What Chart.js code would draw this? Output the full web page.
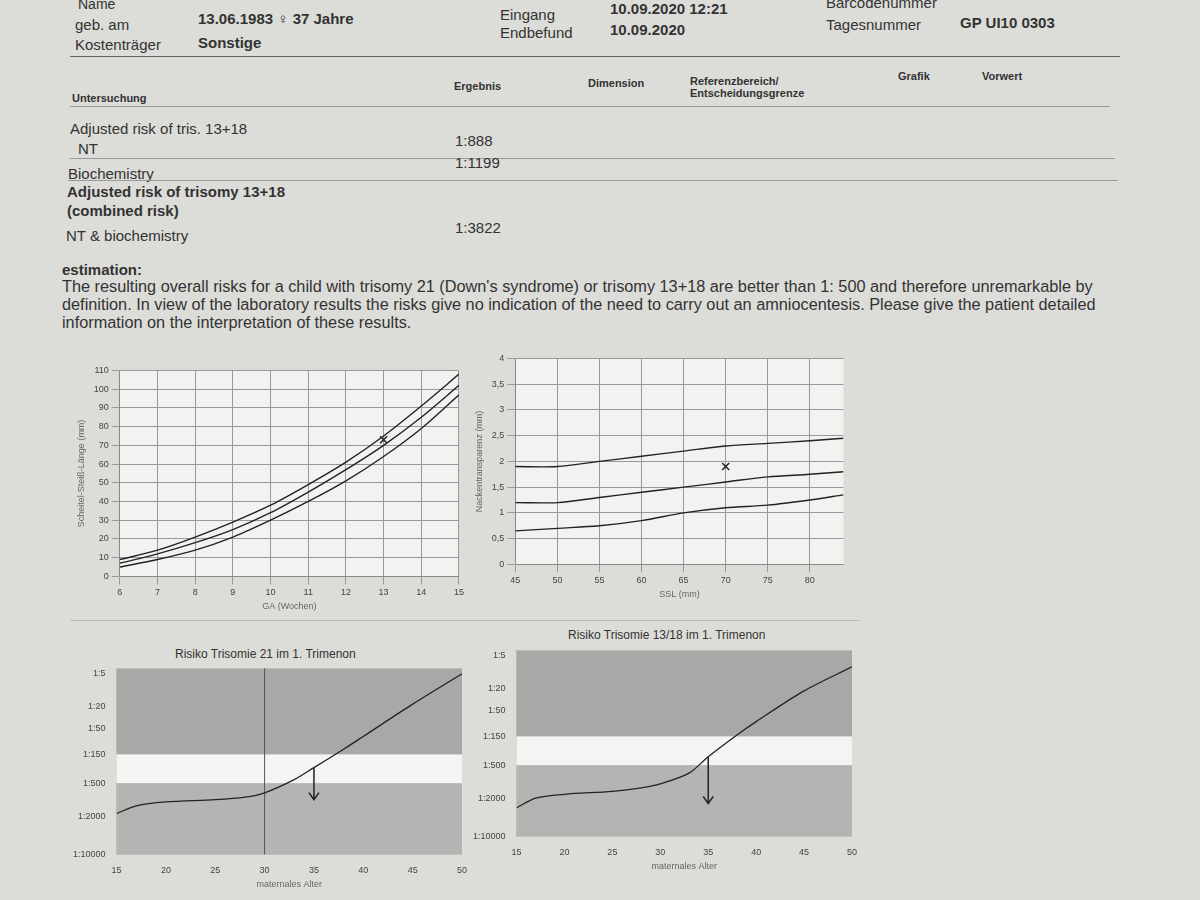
<!DOCTYPE html>
<html><head><meta charset="utf-8">
<script src="https://cdn.jsdelivr.net/npm/chart.js@4"></script>
<style>
body{margin:0;width:1200px;height:900px;background:#dcdcd8;font-family:"Liberation Sans",Arial,sans-serif;color:#333;position:relative;overflow:hidden}
.t{position:absolute;white-space:nowrap}
.hr{position:absolute;height:1px;background:#999}
.c{position:absolute}
</style></head><body>
<div class="t" style="left:78px;top:-4px;font-size:14px">Name</div>
<div class="t" style="left:75px;top:16px;font-size:15px">geb. am</div>
<div class="t" style="left:75px;top:36px;font-size:15px">Kostenträger</div>
<div class="t" style="left:198px;top:10px;font-size:15px;font-weight:bold">13.06.1983 ♀ 37 Jahre</div>
<div class="t" style="left:198px;top:34px;font-size:15px;font-weight:bold">Sonstige</div>
<div class="t" style="left:500px;top:6px;font-size:15px">Eingang</div>
<div class="t" style="left:500px;top:24px;font-size:15px">Endbefund</div>
<div class="t" style="left:610px;top:0px;font-size:15px;font-weight:bold">10.09.2020 12:21</div>
<div class="t" style="left:610px;top:21px;font-size:15px;font-weight:bold">10.09.2020</div>
<div class="t" style="left:826px;top:-6px;font-size:15px">Barcodenummer</div>
<div class="t" style="left:826px;top:16px;font-size:15px">Tagesnummer</div>
<div class="t" style="left:960px;top:14px;font-size:15px;font-weight:bold">GP UI10 0303</div>
<div class="hr" style="left:70px;top:56px;width:1050px;background:#666"></div>
<div class="t" style="left:72px;top:92px;font-size:11px;font-weight:bold">Untersuchung</div>
<div class="t" style="left:454px;top:80px;font-size:11px;font-weight:bold">Ergebnis</div>
<div class="t" style="left:588px;top:77px;font-size:11px;font-weight:bold">Dimension</div>
<div class="t" style="left:690px;top:75px;font-size:11px;font-weight:bold;line-height:12px">Referenzbereich/<br>Entscheidungsgrenze</div>
<div class="t" style="left:898px;top:70px;font-size:11px;font-weight:bold">Grafik</div>
<div class="t" style="left:982px;top:70px;font-size:11px;font-weight:bold">Vorwert</div>
<div class="hr" style="left:70px;top:106px;width:1040px"></div>
<div class="t" style="left:70px;top:120px;font-size:15px">Adjusted risk of tris. 13+18</div>
<div class="t" style="left:78px;top:140px;font-size:15px">NT</div>
<div class="t" style="left:455px;top:132px;font-size:15px">1:888</div>
<div class="hr" style="left:70px;top:158px;width:1045px"></div>
<div class="t" style="left:455px;top:154px;font-size:15px">1:1199</div>
<div class="t" style="left:68px;top:165px;font-size:15px">Biochemistry</div>
<div class="hr" style="left:68px;top:180px;width:1050px"></div>
<div class="t" style="left:67px;top:182px;font-size:15px;font-weight:bold;line-height:19px">Adjusted risk of trisomy 13+18<br>(combined risk)</div>
<div class="t" style="left:66px;top:227px;font-size:15px">NT &amp; biochemistry</div>
<div class="t" style="left:455px;top:219px;font-size:15px">1:3822</div>
<div class="t" style="left:62px;top:261px;font-size:15px;font-weight:bold">estimation:</div>
<div class="t" style="left:62px;top:277px;font-size:16.3px;line-height:18px">The resulting overall risks for a child with trisomy 21 (Down's syndrome) or trisomy 13+18 are better than 1: 500 and therefore unremarkable by<br>definition. In view of the laboratory results the risks give no indication of the need to carry out an amniocentesis. Please give the patient detailed<br>information on the interpretation of these results.</div>
<div class="c" style="left:72px;top:362px;width:395px;height:250px"><canvas id="c1"></canvas></div>
<div class="c" style="left:470px;top:350px;width:380px;height:250px"><canvas id="c2"></canvas></div>
<div class="hr" style="left:70px;top:620px;width:790px;background:#bbb"></div>
<div class="t" style="left:175px;top:647px;font-size:12px">Risiko Trisomie 21 im 1. Trimenon</div>
<div class="t" style="left:568px;top:628px;font-size:12px">Risiko Trisomie 13/18 im 1. Trimenon</div>
<div class="c" style="left:70px;top:660px;width:400px;height:230px"><canvas id="c3"></canvas></div>
<div class="c" style="left:470px;top:642px;width:390px;height:230px"><canvas id="c4"></canvas></div>
<script>
const gaWeeks=[6,7,8,9,10,11,12,13,14,15];
const crlLow=[5,9,14,21,30,40,51,64,79,97];
const crlMid=[7,12,18,25,34,45,57,70,85,102];
const crlHigh=[9,14,21,29,38,49,61,75,91,108];
const crlPoint={x:13,y:73};
const sslX=[45,50,55,60,65,70,75,80,84];
const ntHigh=[1.9,1.9,2.0,2.1,2.2,2.3,2.35,2.4,2.45];
const ntMid=[1.2,1.2,1.3,1.4,1.5,1.6,1.7,1.75,1.8];
const ntLow=[0.65,0.7,0.75,0.85,1.0,1.1,1.15,1.25,1.35];
const ntPoint={x:70,y:1.9};
const ageX=[15,17,20,25,28,30,33,35,38,40,45,50];
const riskT21=[1800,1300,1100,1000,900,750,430,260,120,70,18,5];
const riskT1318=[3000,2000,1700,1500,1300,1100,700,350,140,80,22,8];
const riskTicks=[5,20,50,150,500,2000,10000];
const F={family:"Liberation Sans",size:9};
function lin(xs,ys){return xs.map((x,i)=>({x,y:ys[i]}));}
const grid={color:'#999',borderDash:[2,2]};
const lineDs=(d)=>({data:d,borderColor:'#222',borderWidth:1.4,pointRadius:0,tension:0.3,showLine:true});
const markDs=(p)=>({data:[p],pointStyle:'crossRot',pointRadius:5,borderColor:'#222',borderWidth:1.5,showLine:false});
const base={responsive:true,maintainAspectRatio:false,animation:false,plugins:{legend:{display:false},tooltip:{enabled:false}}};
const bg={id:'bg',beforeDraw(c,a,o){const{ctx,chartArea:ca}=c;ctx.save();ctx.fillStyle=o.color||'#fff';ctx.fillRect(ca.left,ca.top,ca.width,ca.height);ctx.restore();}};
new Chart(c1,{type:'scatter',plugins:[bg],data:{datasets:[lineDs(lin(gaWeeks,crlLow)),lineDs(lin(gaWeeks,crlMid)),lineDs(lin(gaWeeks,crlHigh)),markDs(crlPoint)]},
options:{...base,plugins:{...base.plugins,bg:{color:'#f2f2f0'}},scales:{x:{type:'linear',min:6,max:15,ticks:{stepSize:1,font:F,color:'#444'},grid,title:{display:true,text:'GA (Wochen)',font:F,padding:0}},
y:{min:0,max:110,ticks:{stepSize:10,font:F,color:'#444'},grid,title:{display:true,text:'Scheitel-Steiß-Länge (mm)',font:F}}}}});
new Chart(c2,{type:'scatter',plugins:[bg],data:{datasets:[lineDs(lin(sslX,ntHigh)),lineDs(lin(sslX,ntMid)),lineDs(lin(sslX,ntLow)),markDs(ntPoint)]},
options:{...base,plugins:{...base.plugins,bg:{color:'#f2f2f0'}},scales:{x:{type:'linear',min:45,max:84,afterBuildTicks:s=>{s.ticks=[45,50,55,60,65,70,75,80].map(v=>({value:v}))},ticks:{font:F,color:'#444'},grid,title:{display:true,text:'SSL (mm)',font:F,padding:0}},
y:{min:0,max:4,ticks:{stepSize:0.5,font:F,color:'#444',callback:v=>String(v).replace('.',',')},grid,title:{display:true,text:'Nackentransparenz (mm)',font:F}}}}});
const bands={id:'bands',beforeDatasetsDraw(c,a,o){const{ctx,chartArea:ca,scales:{y}}=c;ctx.save();
const y1=y.getPixelForValue(150),y2=y.getPixelForValue(500);
ctx.fillStyle='#a8a8a6';ctx.fillRect(ca.left,ca.top,ca.width,y1-ca.top);
ctx.fillStyle='#f4f4f2';ctx.fillRect(ca.left,y1,ca.width,y2-y1);
ctx.fillStyle='#b4b4b2';ctx.fillRect(ca.left,y2,ca.width,ca.bottom-y2);
if(o.vline){const x=c.scales.x.getPixelForValue(o.vline);ctx.strokeStyle='#555';ctx.lineWidth=1;ctx.beginPath();ctx.moveTo(x,ca.top);ctx.lineTo(x,ca.bottom);ctx.stroke();}
const ax=c.scales.x.getPixelForValue(o.arrow[0]),ay1=y.getPixelForValue(o.arrow[1]),ay2=y.getPixelForValue(o.arrow[2]);
ctx.strokeStyle='#222';ctx.lineWidth=1.5;ctx.beginPath();ctx.moveTo(ax,ay1);ctx.lineTo(ax,ay2);ctx.moveTo(ax-5,ay2-7);ctx.lineTo(ax,ay2);ctx.lineTo(ax+5,ay2-7);ctx.stroke();ctx.restore();}};
function riskChart(el,vals,opt){new Chart(el,{type:'scatter',plugins:[bands],data:{datasets:[{data:lin(ageX,vals),borderColor:'#222',borderWidth:1.3,pointRadius:0,showLine:true,tension:0.3}]},
options:{...base,layout:{padding:{top:8}},plugins:{...base.plugins,bands:opt},scales:{x:{type:'linear',min:15,max:50,ticks:{stepSize:5,font:F,color:'#444'},grid:{display:false},title:{display:true,text:'maternales Alter',font:F,padding:0}},
y:{type:'logarithmic',reverse:true,min:4,max:10000,afterBuildTicks:s=>{s.ticks=riskTicks.map(v=>({value:v}))},ticks:{font:F,color:'#444',callback:v=>'1:'+v},grid:{color:'#ddd',borderDash:[2,2]}}}}});}
riskChart(c3,riskT21,{vline:30,arrow:[35,260,1000]});
riskChart(c4,riskT1318,{arrow:[35,350,2500]});
</script></body></html>
